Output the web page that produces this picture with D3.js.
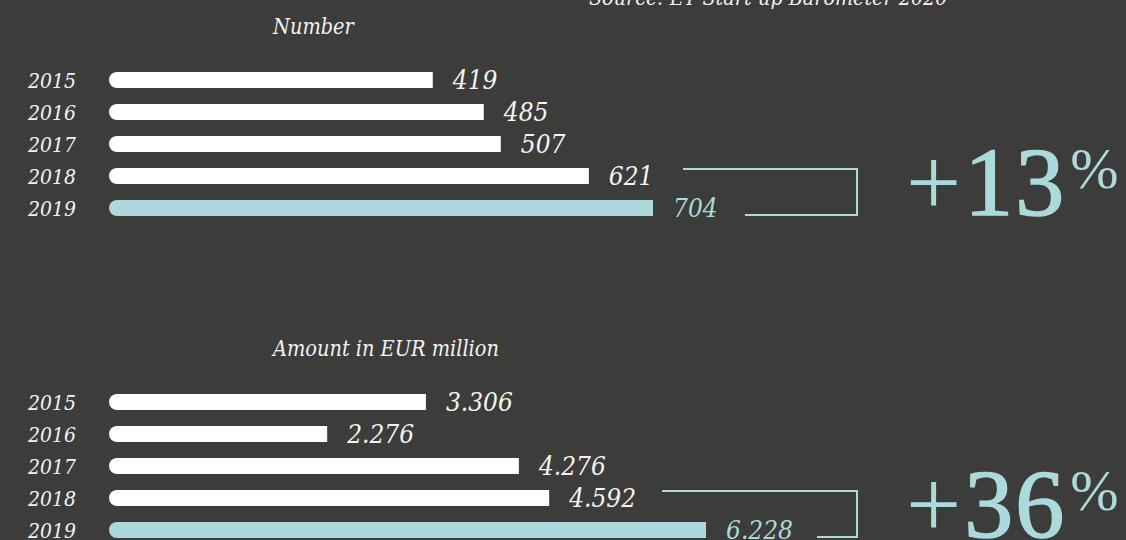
<!DOCTYPE html>
<html>
<head>
<meta charset="utf-8">
<script src="https://cdn.jsdelivr.net/npm/d3@7"></script>
<style>
  html, body { margin: 0; padding: 0; background: #3c3c3a; }
  svg { display: block; }
  .lbl { font-family: "DejaVu Serif Condensed", "DejaVu Serif", serif; font-style: italic; }
  .big { font-family: "Liberation Serif", "Times New Roman", serif; }
</style>
</head>
<body>
<div id="chart"></div>
<script>
// Chart data
var years = ["2015", "2016", "2017", "2018", "2019"];
var numberValues = [419, 485, 507, 621, 704];
var amountValues = [3306, 2276, 4276, 4592, 6228];
var growthLabels = ["+13", "+36"];
var titles = ["Number", "Amount in EUR million"];
var source = "Source: EY Start-up Barometer 2020";

// Dimensions and colours
var width = 1126;
var height = 540;
var barLeft = 109;
var barHeight = 16;
var white = "#ffffff";
var teal = "#acd9dc";

// European style numbers: 3.306
var euro = d3.formatLocale({ decimal: ",", thousands: ".", grouping: [3], currency: ["", "€"] });
var fmt = euro.format(",d");

var svg = d3.select("#chart")
    .append("svg")
    .attr("width", width)
    .attr("height", height);

svg.append("text")
    .attr("class", "lbl")
    .attr("x", 589)
    .attr("y", 5)
    .attr("font-size", 21.3)
    .attr("fill", "#f2f2f2")
    .text(source);

// One panel per measure
var panels = [
    { title: titles[0], values: numberValues, top: 0, barEnd: 653, bracketStart: 683, bracketBottomStart: 745, growth: growthLabels[0] },
    { title: titles[1], values: amountValues, top: 322, barEnd: 706, bracketStart: 662, bracketBottomStart: 817, growth: growthLabels[1] }
];

panels.forEach(function(p) {

    var g = svg.append("g").attr("transform", "translate(0," + p.top + ")");

    var x = d3.scaleLinear()
        .domain([0, d3.max(p.values)])
        .range([barLeft, p.barEnd]);

    var y = d3.scalePoint()
        .domain(years)
        .range([80, 208]);

    var last = years[years.length - 1];
    var colour = function(yr) { return yr === last ? teal : white; };

    // Title
    g.append("text")
        .attr("class", "lbl")
        .attr("x", 273)
        .attr("y", 34)
        .attr("font-size", 21.5)
        .attr("fill", "#f2f2f2")
        .text(p.title);

    var rows = g.selectAll(".row")
        .data(years)
        .enter()
        .append("g")
        .attr("class", "row");

    // Year labels
    rows.append("text")
        .attr("class", "lbl")
        .attr("x", 28)
        .attr("y", function(d) { return y(d) + 8; })
        .attr("font-size", 21)
        .attr("fill", "#f2f2f2")
        .text(function(d) { return d; });

    // Bars: rounded left end, square right end
    rows.append("rect")
        .attr("x", barLeft)
        .attr("y", function(d) { return y(d) - barHeight / 2; })
        .attr("width", barHeight * 2)
        .attr("height", barHeight)
        .attr("rx", barHeight / 2)
        .attr("fill", colour);

    rows.append("rect")
        .attr("x", barLeft + barHeight / 2)
        .attr("y", function(d) { return y(d) - barHeight / 2; })
        .attr("width", function(d, i) { return x(p.values[i]) - barLeft - barHeight / 2; })
        .attr("height", barHeight)
        .attr("fill", colour);

    // Value labels
    rows.append("text")
        .attr("class", "lbl")
        .attr("x", function(d, i) { return x(p.values[i]) + 20; })
        .attr("y", function(d) { return y(d) + 8.5; })
        .attr("font-size", 26)
        .attr("fill", function(d) { return d === last ? teal : "#f4f4f4"; })
        .text(function(d, i) { return fmt(p.values[i]); });

    // Bracket between last two years
    var prev = years[years.length - 2];
    var yTop = y(prev) - barHeight / 2 + 1;
    var yBot = y(last) + barHeight / 2 - 1;
    var bx = 857;
    g.append("path")
        .attr("d", "M" + p.bracketStart + "," + yTop + "H" + bx + "V" + yBot + "H" + p.bracketBottomStart)
        .attr("fill", "none")
        .attr("stroke", teal)
        .attr("stroke-width", 2);

    // Growth figure: thin plus sign, heavier digits, raised percent sign
    var big = g.append("text")
        .attr("class", "big")
        .attr("x", 906)
        .attr("y", yBot)
        .attr("font-size", 98)
        .attr("fill", teal);
    big.append("tspan").text(p.growth.charAt(0));
    big.append("tspan")
        .attr("dx", 3)
        .attr("letter-spacing", 2)
        .attr("stroke", teal)
        .attr("stroke-width", 1.6)
        .text(p.growth.slice(1));
    big.append("tspan")
        .attr("font-size", 58)
        .attr("dx", 4)
        .attr("dy", -27)
        .text("%");
});
</script>
</body>
</html>
